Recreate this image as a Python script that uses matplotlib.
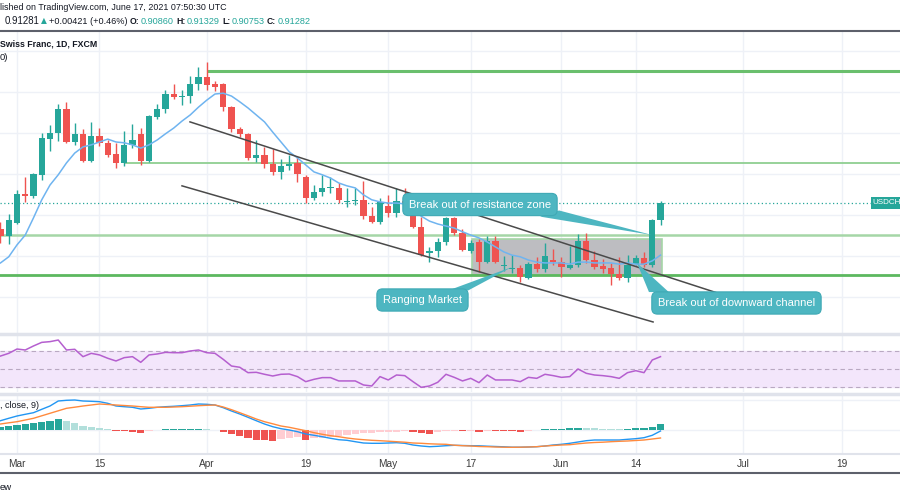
import matplotlib
matplotlib.use("Agg")
import matplotlib.pyplot as plt
import matplotlib.transforms as mtransforms
from matplotlib.patches import Rectangle, Polygon
from matplotlib.lines import Line2D
import numpy as np
import pandas as pd

plt.rcParams['font.family'] = ['Liberation Sans', 'DejaVu Sans']

# ---------------- data (USDCHF, 1D, FXCM) ----------------
start_date = '2021-02-25'
calendar_end = '2021-07-30'

opens = [0.9065, 0.9048, 0.9079, 0.9150, 0.9145, 0.9197, 0.9284, 0.9299, 0.9357, 0.9277,
         0.9297, 0.9231, 0.9292, 0.9275, 0.9248, 0.9226, 0.9270, 0.9297, 0.9231, 0.9338,
         0.9357, 0.9394, 0.9387, 0.9389, 0.9418, 0.9436, 0.9418, 0.9418, 0.9362, 0.9309,
         0.9297, 0.9238, 0.9245, 0.9223, 0.9204, 0.9218, 0.9226, 0.9192, 0.9140, 0.9155,
         0.9165, 0.9165, 0.9131, 0.9133, 0.9136, 0.9096, 0.9082, 0.9121, 0.9104, 0.9133,
         0.9126, 0.9070, 0.9006, 0.9011, 0.9033, 0.9092, 0.9055, 0.9011, 0.9033, 0.8984,
         0.9036, 0.8975, 0.8967, 0.8970, 0.8945, 0.8979, 0.8967, 0.8989, 0.8984, 0.8970,
         0.8977, 0.9036, 0.8989, 0.8975, 0.8970, 0.8955, 0.8945, 0.8979, 0.8994, 0.8977,
         0.90860]
highs = [0.9082, 0.9101, 0.9160, 0.9192, 0.9201, 0.9299, 0.9318, 0.9370, 0.9375, 0.9323,
         0.9309, 0.9326, 0.9311, 0.9282, 0.9275, 0.9304, 0.9321, 0.9311, 0.9343, 0.9370,
         0.9404, 0.9418, 0.9404, 0.9438, 0.9460, 0.9472, 0.9426, 0.9420, 0.9364, 0.9314,
         0.9299, 0.9282, 0.9265, 0.9260, 0.9236, 0.9245, 0.9240, 0.9197, 0.9172, 0.9197,
         0.9192, 0.9177, 0.9165, 0.9165, 0.9182, 0.9118, 0.9140, 0.9148, 0.9165, 0.9165,
         0.9136, 0.9094, 0.9021, 0.9043, 0.9094, 0.9094, 0.9065, 0.9038, 0.9040, 0.9048,
         0.9048, 0.8999, 0.9001, 0.8977, 0.8984, 0.8997, 0.9031, 0.9016, 0.8997, 0.9023,
         0.9053, 0.9055, 0.9011, 0.8992, 0.8982, 0.8997, 0.9001, 0.9001, 0.9009, 0.9089,
         0.91329]
lows = [0.9031, 0.9028, 0.9077, 0.9131, 0.9140, 0.9184, 0.9255, 0.9279, 0.9275, 0.9270,
        0.9229, 0.9229, 0.9267, 0.9240, 0.9214, 0.9218, 0.9262, 0.9221, 0.9228, 0.9333,
        0.9348, 0.9382, 0.9367, 0.9372, 0.9404, 0.9404, 0.9401, 0.9353, 0.9301, 0.9289,
        0.9233, 0.9228, 0.9214, 0.9197, 0.9187, 0.9209, 0.9179, 0.9128, 0.9136, 0.9145,
        0.9153, 0.9128, 0.9118, 0.9123, 0.9089, 0.9079, 0.9077, 0.9094, 0.9094, 0.9118,
        0.9068, 0.8999, 0.8984, 0.8997, 0.9026, 0.9050, 0.9011, 0.9006, 0.8960, 0.8982,
        0.8982, 0.8962, 0.8957, 0.8936, 0.8943, 0.8960, 0.8960, 0.8977, 0.8948, 0.8968,
        0.8972, 0.8982, 0.8967, 0.8957, 0.8928, 0.8940, 0.8936, 0.8977, 0.8972, 0.8972,
        0.90753]
closes = [0.9048, 0.9087, 0.9150, 0.9145, 0.9199, 0.9287, 0.9299, 0.9357, 0.9277, 0.9297,
          0.9231, 0.9292, 0.9275, 0.9245, 0.9226, 0.9270, 0.9282, 0.9231, 0.9340, 0.9357,
          0.9394, 0.9387, 0.9389, 0.9418, 0.9436, 0.9416, 0.9411, 0.9362, 0.9309, 0.9297,
          0.9238, 0.9245, 0.9223, 0.9204, 0.9218, 0.9223, 0.9199, 0.9140, 0.9155, 0.9165,
          0.9167, 0.9136, 0.9133, 0.9136, 0.9096, 0.9082, 0.9131, 0.9104, 0.9133, 0.9128,
          0.9070, 0.9001, 0.9011, 0.9033, 0.9092, 0.9055, 0.9014, 0.9031, 0.8984, 0.9036,
          0.8984, 0.8977, 0.8970, 0.8948, 0.8979, 0.8967, 0.8999, 0.8984, 0.8972, 0.8977,
          0.9036, 0.8989, 0.8972, 0.8967, 0.8955, 0.8945, 0.8977, 0.8994, 0.8977, 0.9086,
          0.91282]
ma_vals = [0.8982, 0.8997, 0.9026, 0.9050, 0.9092, 0.9136, 0.9172, 0.9197, 0.9226, 0.9250,
           0.9265, 0.9270, 0.9277, 0.9284, 0.9277, 0.9275, 0.9270, 0.9262, 0.9270, 0.9282,
           0.9297, 0.9311, 0.9328, 0.9343, 0.9362, 0.9379, 0.9394, 0.9396, 0.9389, 0.9375,
           0.9360, 0.9343, 0.9326, 0.9301, 0.9277, 0.9253, 0.9238, 0.9221, 0.9204, 0.9197,
           0.9189, 0.9177, 0.9170, 0.9165, 0.9148, 0.9136, 0.9131, 0.9128, 0.9128, 0.9126,
           0.9111, 0.9096, 0.9084, 0.9077, 0.9072, 0.9067, 0.9058, 0.9050, 0.9043, 0.9033,
           0.9021, 0.9009, 0.9001, 0.8997, 0.8989, 0.8984, 0.8982, 0.8982, 0.8982, 0.8979,
           0.8984, 0.8984, 0.8982, 0.8982, 0.8982, 0.8979, 0.8982, 0.8979, 0.8979, 0.8987,
           0.9001]
rsi_vals = [64.4, 67.4, 72.2, 71.1, 75.6, 79.6, 80.4, 82.2, 71.1, 71.9,
            63.7, 67.4, 65.6, 61.9, 58.9, 62.6, 63.7, 57.4, 65.6, 66.7,
            68.5, 68.1, 68.1, 70.0, 71.1, 68.1, 67.4, 60.7, 53.3, 51.9,
            45.9, 46.3, 44.1, 42.2, 44.1, 44.4, 41.5, 35.9, 38.5, 40.4,
            40.4, 36.7, 36.7, 36.7, 32.2, 31.1, 41.5, 37.8, 43.3, 42.6,
            35.9, 29.6, 31.1, 35.2, 44.1, 40.7, 36.7, 39.6, 34.8, 43.3,
            37.8, 37.8, 37.8, 35.9, 40.7, 39.6, 44.1, 42.6, 40.7, 41.5,
            50.0, 45.2, 43.3, 42.6, 41.5, 39.6, 45.9, 48.1, 45.9, 60.0,
            63.7]
macd_vals = [0.00279, 0.00351, 0.0042, 0.00471, 0.00519, 0.00621, 0.0072, 0.0087, 0.00891, 0.009,
             0.0087, 0.00861, 0.00849, 0.00801, 0.0072, 0.00699, 0.00681, 0.0063, 0.00651, 0.00681,
             0.00699, 0.00711, 0.00729, 0.0075, 0.0078, 0.00771, 0.0075, 0.00669, 0.0057, 0.0048,
             0.00381, 0.00279, 0.0018, 0.00099, 0.00039, 0.0, -0.00051, -0.0012, -0.00159, -0.00201,
             -0.00249, -0.00291, -0.00309, -0.00351, -0.0039, -0.00399, -0.00399, -0.0039, -0.00381, -0.00399,
             -0.0045, -0.0048, -0.00501, -0.00489, -0.00471, -0.00459, -0.00465, -0.00471, -0.00474, -0.00486,
             -0.00495, -0.00504, -0.00516, -0.00516, -0.0051, -0.00501, -0.0048, -0.0045, -0.00429, -0.00399,
             -0.0036, -0.00321, -0.003, -0.003, -0.003, -0.003, -0.00279, -0.00261, -0.00231, -0.00159,
             -0.0003]
signal_vals = [0.0018, 0.00216, 0.00249, 0.003, 0.00351, 0.00426, 0.00501, 0.00576, 0.00651, 0.00684,
               0.0072, 0.0075, 0.0078, 0.00765, 0.0075, 0.00735, 0.0072, 0.00699, 0.00681, 0.00681,
               0.00681, 0.0069, 0.00699, 0.00714, 0.00729, 0.00741, 0.0075, 0.0069, 0.00609, 0.00519,
               0.00426, 0.0033, 0.00249, 0.00186, 0.0012, 0.00081, 0.0003, -0.00021, -0.00081, -0.00129,
               -0.00171, -0.00201, -0.0024, -0.0027, -0.00291, -0.00309, -0.00321, -0.00336, -0.00351, -0.00366,
               -0.0039, -0.00399, -0.00414, -0.00423, -0.00429, -0.00456, -0.00471, -0.0048, -0.00495, -0.00501,
               -0.0051, -0.00516, -0.00519, -0.00516, -0.0051, -0.00501, -0.0048, -0.00465, -0.0045, -0.00441,
               -0.00414, -0.0039, -0.00375, -0.00366, -0.00351, -0.00339, -0.0033, -0.00315, -0.003, -0.0027,
               -0.0024]
hist_vals = [0.00099, 0.0012, 0.0015, 0.00171, 0.00201, 0.0024, 0.00279, 0.00321, 0.0027, 0.00201,
             0.00129, 0.00099, 0.00069, 0.00021, -0.0003, -0.00039, -0.00045, -0.00081, -0.0003, -0.00009,
             0.00021, 0.0003, 0.00033, 0.00036, 0.00039, 0.00021, 0.00009, -0.00051, -0.0012, -0.0018,
             -0.00249, -0.003, -0.00309, -0.00315, -0.00279, -0.00249, -0.00219, -0.003, -0.00249, -0.00231,
             -0.00201, -0.0018, -0.0015, -0.0012, -0.00099, -0.00081, -0.0006, -0.00051, -0.00045, -0.00021,
             -0.00069, -0.00081, -0.0012, -0.0006, -0.0003, -0.00021, -0.0003, -0.00015, -0.00051, -0.00015,
             -0.0003, -0.00033, -0.00036, -0.0006, -0.00021, -0.00009, 0.0003, 0.00032, 0.00033, 0.00051,
             0.00069, 0.00066, 0.00063, 0.00039, 0.0003, 0.00021, 0.0003, 0.00051, 0.00054, 0.00099,
             0.00171]

tick_dates = ['2021-03-01', '2021-03-15', '2021-04-01', '2021-04-19', '2021-05-03',
              '2021-05-17', '2021-06-01', '2021-06-14', '2021-07-01', '2021-07-19']
tick_labels = ['Mar', '15', 'Apr', '19', 'May', '17', 'Jun', '14', 'Jul', '19']

last_price = 0.91282
level_top = 0.9450      # from Apr 1
level_upper = 0.9226    # from Mar 18
level_lower = 0.9050
level_support = 0.8953
range_box = dict(start='2021-05-18', end='2021-06-17', low=0.8953, high=0.9040)
channel_upper = [(22.97, 0.9326), (86.85, 0.8909)]
channel_lower = [(22.0, 0.9170), (79.1, 0.8838)]

# ---------------- setup ----------------
calendar = pd.bdate_range(start_date, calendar_end)
x = np.arange(len(closes))
tick_pos = [calendar.get_loc(pd.Timestamp(d)) for d in tick_dates]
o = np.array(opens); h = np.array(highs); l = np.array(lows); c = np.array(closes)

W, H = 900, 500
fig = plt.figure(figsize=(9, 5), dpi=100)
fig.patch.set_facecolor('white')

def band(y0, y1):
    return [0, 1 - y1 / H, 1, (y1 - y0) / H]

ax = fig.add_axes(band(31, 333))
ax_rsi = fig.add_axes(band(334, 392))
ax_macd = fig.add_axes(band(395, 453))
XL = (-0.06, 109.03)
grid_c = '#eef1f7'
for a in (ax, ax_rsi, ax_macd):
    a.set_xlim(*XL)
    for s in a.spines.values():
        s.set_visible(False)
    a.set_yticks([])
    a.tick_params(length=0)
    for t in tick_pos:
        a.axvline(t, color=grid_c, lw=1, zorder=0)
ax.set_xticks([]); ax_rsi.set_xticks([])

# ---------------- main pane ----------------
ax.set_ylim(0.88111, 0.95477)
for p in np.arange(0.89, 0.951, 0.01):
    ax.axhline(p, color=grid_c, lw=1, zorder=0)

i0 = calendar.get_loc(pd.Timestamp(range_box['start'])) - 0.9
i1 = calendar.get_loc(pd.Timestamp(range_box['end'])) + 0.2
ax.add_patch(Rectangle((i0, range_box['low']), i1 - i0, range_box['high'] - range_box['low'],
                       fc='#bdbdc1', ec='#a5d6a7', lw=1.2, zorder=1))

ax.hlines(level_top, calendar.get_loc(pd.Timestamp('2021-04-01')), XL[1], color='#6abf6d', lw=2.2, zorder=2)
ax.hlines(level_upper, calendar.get_loc(pd.Timestamp('2021-03-18')), XL[1], color='#8fcf91', lw=1.3, zorder=2)
ax.axhline(level_lower, color='#a5d6a7', lw=1.8, zorder=2)
ax.axhline(level_support, color='#5cb85f', lw=2.0, zorder=2)
ax.axhline(last_price, color='#26a69a', lw=0.9, ls=(0, (1, 2)), zorder=2)

up, dn = '#26a69a', '#ef5350'
cols = [up if cc >= oo else dn for oo, cc in zip(o, c)]
ax.vlines(x, l, h, colors=cols, lw=1, zorder=3)
ax.bar(x, np.maximum(np.abs(c - o), 0.00007), bottom=np.minimum(o, c), width=0.74,
       color=cols, linewidth=0, zorder=4)

ax.plot(x, ma_vals, color='#6fb4f0', lw=1.1, zorder=5)

for seg in (channel_upper, channel_lower):
    ax.plot([seg[0][0], seg[1][0]], [seg[0][1], seg[1][1]], color='#4a4a4a', lw=1.1, zorder=6)

trans = mtransforms.blended_transform_factory(ax.transAxes, ax.transData)
ax.add_patch(Rectangle((871 / 900, last_price - 0.0015), 0.05, 0.003, transform=trans,
                       fc='#26a69a', ec='none', zorder=7))
ax.text(872.5 / 900, last_price, 'USDCH', transform=trans, color='white', fontsize=5.8,
        va='center', ha='left', zorder=8)

callout_c = '#4db6c1'

def callout(text, cx, cy, poly):
    ax.add_patch(Polygon(poly, closed=True, fc=callout_c, ec='none', zorder=8))
    ax.text(cx, cy, text, ha='center', va='center', color='white', fontsize=8.0, zorder=9,
            bbox=dict(boxstyle='round,pad=0.55,rounding_size=0.5', fc=callout_c, ec='#3fa9b5', lw=0.8))

callout('Break out of resistance zone', 58.12, 0.91245,
        [(65.4, 0.9095), (67.7, 0.9110), (78.97, 0.90501)])
callout('Ranging Market', 51.15, 0.88916,
        [(54.3, 0.8915), (56.7, 0.8915), (62.0, 0.89721)])
callout('Break out of downward channel', 89.21, 0.88843,
        [(78.6, 0.8911), (81.0, 0.8911), (77.15, 0.89818)])

# ---------------- RSI pane ----------------
ax_rsi.set_ylim(24.4, 88.9)
ax_rsi.axhspan(30, 70, color='#f3e6fb', zorder=0)
for lvl in (70, 50, 30):
    ax_rsi.axhline(lvl, color='#b9a9c2', lw=0.8, ls=(0, (4, 3)), zorder=1)
ax_rsi.plot(x, rsi_vals, color='#b55fcf', lw=1.1, zorder=3)

# ---------------- MACD pane ----------------
ax_macd.set_ylim(-0.0069, 0.0105)
ax_macd.axhline(0, color=grid_c, lw=1, zorder=0)
ax_macd.axhline(0.009, color=grid_c, lw=1, zorder=0)
hcols = []
prev = None
for v in hist_vals:
    rising = True if prev is None else v >= prev
    if v >= 0:
        hcols.append('#26a69a' if rising else '#b2dfdb')
    else:
        hcols.append('#ffcdd2' if rising else '#ef5350')
    prev = v
ax_macd.bar(x, hist_vals, width=0.85, color=hcols, linewidth=0, zorder=2)
ax_macd.plot(x, macd_vals, color='#2196f3', lw=1, zorder=3)
ax_macd.plot(x, signal_vals, color='#ff8a3d', lw=1, zorder=3)
ax_macd.set_xticks(tick_pos)
ax_macd.set_xticklabels(tick_labels, fontsize=7.3, color='#3c3c3c')
ax_macd.tick_params(axis='x', length=0, pad=4)

# ---------------- frame lines & texts ----------------
def hline_px(y, color, lw):
    fig.add_artist(Line2D([0, 1], [1 - y / H, 1 - y / H], color=color, lw=lw,
                          transform=fig.transFigure))

hline_px(31, '#5d606b', 1.5)
hline_px(333.5, '#e0e3eb', 2.5)
hline_px(393.5, '#e0e3eb', 2.5)
hline_px(453.5, '#e0e3eb', 1.5)
hline_px(473, '#5d606b', 1.5)

dark = '#131722'
teal = '#26a69a'
def ftext(xpx, ypx, s, **kw):
    fig.text(xpx / W, 1 - ypx / H, s, va='center', ha='left', **kw)

ftext(0, 7, 'lished on TradingView.com, June 17, 2021 07:50:30 UTC', fontsize=6.4, color=dark)
ftext(5, 21, '0.91281', fontsize=6.9, color=dark)
ftext(41, 21, '▲', fontsize=5.5, color=teal, family=['DejaVu Sans'])
ftext(49, 21, '+0.00421 (+0.46%)', fontsize=6.6, color=dark)
ftext(129.5, 21, 'O:', fontsize=6.2, color=dark, fontweight='bold')
ftext(141, 21, '0.90860', fontsize=6.6, color=teal)
ftext(176, 21, 'H:', fontsize=6.2, color=dark, fontweight='bold')
ftext(187, 21, '0.91329', fontsize=6.6, color=teal)
ftext(222.5, 21, 'L:', fontsize=6.2, color=dark, fontweight='bold')
ftext(232, 21, '0.90753', fontsize=6.6, color=teal)
ftext(267, 21, 'C:', fontsize=6.2, color=dark, fontweight='bold')
ftext(278, 21, '0.91282', fontsize=6.6, color=teal)
ftext(0, 44, 'Swiss Franc, 1D, FXCM', fontsize=6.3, color=dark, fontweight='bold')
ftext(0, 57, '0)', fontsize=6.8, color=dark)
ftext(0, 405, ', close, 9)', fontsize=6.5, color=dark)
ftext(0, 487, 'ew', fontsize=6.8, color=dark)

fig.savefig('out.png', dpi=100)
